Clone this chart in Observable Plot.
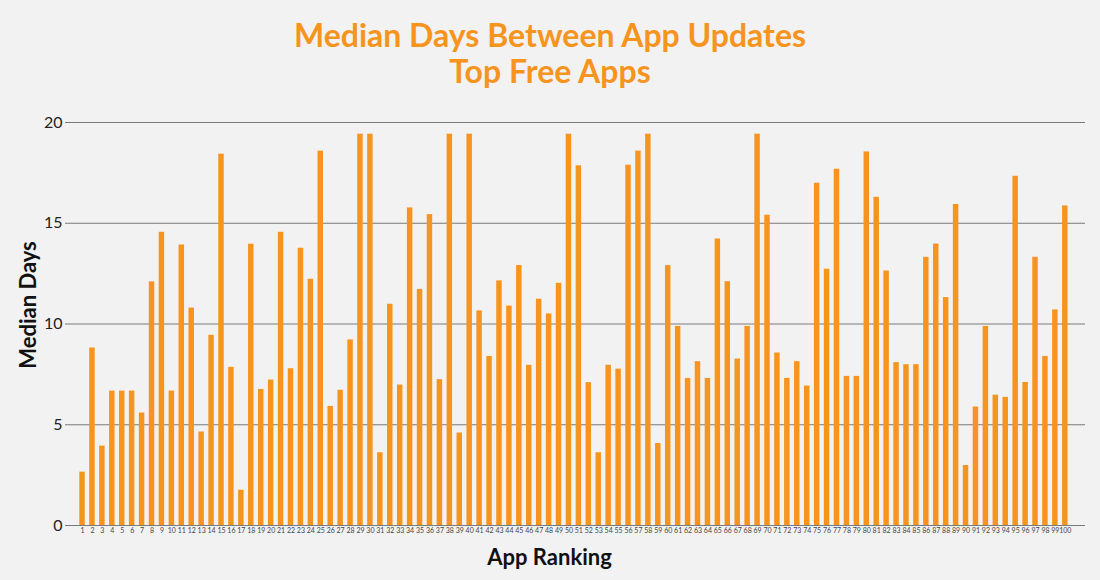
<!DOCTYPE html>
<html>
<head>
<meta charset="utf-8">
<script src="https://cdn.jsdelivr.net/npm/d3@7"></script>
<script src="https://cdn.jsdelivr.net/npm/@observablehq/plot@0.6"></script>
<style>
  html, body { margin: 0; padding: 0; background: #f2f2f2; width: 1100px; height: 580px; overflow: hidden; }
  #title { box-sizing: border-box; height: 100px; padding-top: 17px; text-align: center;
    font-family: Lato, sans-serif; font-weight: 700; font-size: 32px; line-height: 36px; color: #f7941e; }
  #chart svg { display: block; }
</style>
</head>
<body>
<div id="title">Median Days Between App Updates<br>Top Free Apps</div>
<div id="chart"></div>
<script>
const rankings = d3.range(1, 101);
const medianDays = [
  2.65, 8.81, 3.94, 6.67, 6.67, 6.67, 5.58, 12.09, 14.55, 6.67,
  13.92, 10.79, 4.64, 9.44, 18.43, 7.85, 1.75, 13.96, 6.75, 7.22,
  14.55, 7.78, 13.76, 12.22, 18.58, 5.91, 6.71, 9.21, 19.42, 19.42,
  3.61, 10.98, 6.97, 15.76, 11.72, 15.43, 7.24, 19.42, 4.59, 19.42,
  10.65, 8.39, 12.14, 10.89, 12.90, 7.95, 11.23, 10.50, 12.02, 19.42,
  17.85, 7.09, 3.61, 7.95, 7.76, 17.88, 18.58, 19.42, 4.07, 12.90,
  9.88, 7.30, 8.13, 7.30, 14.22, 12.10, 8.26, 9.88, 19.42, 15.40,
  8.56, 7.30, 8.13, 6.92, 16.99, 12.72, 17.68, 7.40, 7.40, 18.54,
  16.29, 12.63, 8.08, 7.98, 7.98, 13.31, 13.97, 11.31, 15.93, 2.98,
  5.88, 9.88, 6.47, 6.36, 17.33, 7.10, 13.31, 8.39, 10.70, 15.86
];
const yTicks = [0, 5, 10, 15, 20];
const xTitle = "App Ranking";
const yTitle = "Median Days";
const data = rankings.map((r, i) => ({rank: r, days: medianDays[i]}));

const chart = Plot.plot({
  width: 1100,
  height: 480,
  marginLeft: 65,
  marginRight: 15,
  marginTop: 22,
  marginBottom: 55,
  style: {background: "#f2f2f2", fontFamily: "Lato, sans-serif", color: "#222"},
  x: {type: "band", domain: rankings, paddingInner: 0.45, paddingOuter: 1.6, align: 0.45},
  y: {domain: [0, 20]},
  marks: [
    Plot.gridY(yTicks, {stroke: "#7a7a7a", strokeOpacity: 1}),
    Plot.barY(data, {x: "rank", y: "days", fill: "#f7941e"}),
    Plot.axisY(yTicks, {tickSize: 0, tickPadding: 3, fontSize: 16, fill: "#222", label: null}),
    Plot.axisX({tickSize: 0, tickPadding: 3, fontSize: 7, fill: "#444", label: null}),
    Plot.text([xTitle], {frameAnchor: "bottom", dx: -26, dy: 32, text: d => d,
      fontSize: 22, fontWeight: 700, fill: "#111", lineAnchor: "middle", textAnchor: "middle"}),
    Plot.text([yTitle], {frameAnchor: "left", dx: -37, dy: -19, rotate: -90, text: d => d,
      fontSize: 22, fontWeight: 700, fill: "#111", lineAnchor: "middle", textAnchor: "middle"})
  ]
});
document.getElementById("chart").appendChild(chart);
</script>
</body>
</html>
